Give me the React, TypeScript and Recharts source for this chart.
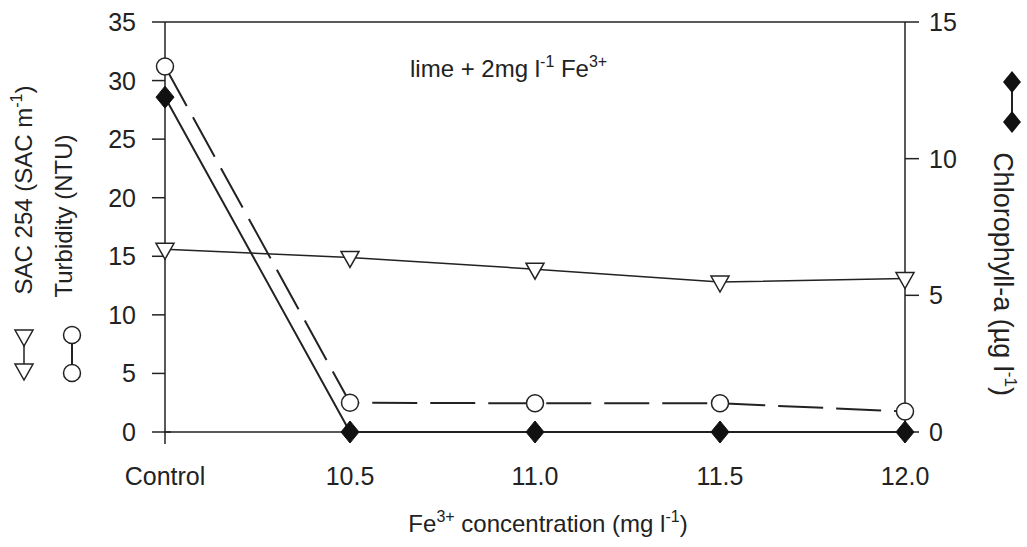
import { LineChart, Line, XAxis, YAxis, ReferenceLine } from 'recharts';

const categories = ['Control', '10.5', '11.0', '11.5', '12.0'];
const sac254 = [15.6, 14.9, 13.9, 12.8, 13.1];
const turbidity = [31.2, 2.5, 2.45, 2.45, 1.75];
const chlorophyll = [12.25, 0, 0, 0, 0];
const leftTicks = [0, 5, 10, 15, 20, 25, 30, 35];
const rightTicks = [0, 5, 10, 15];

const data = categories.map((c, i) => ({
  name: c,
  sac: sac254[i],
  turb: turbidity[i],
  chl: chlorophyll[i],
}));

const INK = '#222';
const FONT = '"Liberation Sans", Arial, sans-serif';

const TriangleDot = (props: any) => {
  const { cx, cy } = props;
  if (cx == null || cy == null) return null;
  return (
    <polygon
      points={`${cx - 9},${cy - 6} ${cx + 9},${cy - 6} ${cx},${cy + 10}`}
      fill="#fff"
      stroke={INK}
      strokeWidth={1.5}
    />
  );
};

const DiamondDot = (props: any) => {
  const { cx, cy } = props;
  if (cx == null || cy == null) return null;
  return (
    <polygon
      points={`${cx},${cy - 11} ${cx + 9},${cy} ${cx},${cy + 11} ${cx - 9},${cy}`}
      fill="#111"
      stroke="#111"
      strokeWidth={1}
    />
  );
};

const CircleDot = (props: any) => {
  const { cx, cy } = props;
  if (cx == null || cy == null) return null;
  return <circle cx={cx} cy={cy} r={8.5} fill="#fff" stroke={INK} strokeWidth={1.5} />;
};

const LeftTick = (props: any) => {
  const { x, y, payload } = props;
  return (
    <g>
      {payload.value === 0 && (
        <>
          <line x1={x + 14} x2={x + 21} y1={y} y2={y} stroke={INK} strokeWidth={1.5} />
          <line x1={x + 15} x2={x + 15} y1={y} y2={y + 12} stroke={INK} strokeWidth={1.5} />
        </>
      )}
      <text x={x - 14} y={y} dy={9} textAnchor="end" fontSize={25} fill={INK} fontFamily={FONT}>
        {payload.value}
      </text>
    </g>
  );
};

export default function App() {
  return (
    <div style={{ position: 'absolute', left: 0, top: 0, width: 1027, height: 547, background: '#fff' }}>
      <LineChart
        width={1027}
        height={547}
        data={data}
        margin={{ top: 22, right: 62, left: 105, bottom: 55 }}
      >
        <XAxis
          dataKey="name"
          axisLine={{ stroke: INK, strokeWidth: 1.5 }}
          tickLine={false}
          tick={{ fontSize: 25, fill: INK, fontFamily: FONT }}
          tickMargin={29}
          height={60}
          interval={0}
        />
        <YAxis
          yAxisId="left"
          domain={[0, 35]}
          ticks={leftTicks}
          width={60}
          axisLine={{ stroke: INK, strokeWidth: 1.5 }}
          tickLine={{ stroke: INK, strokeWidth: 1.5 }}
          tickSize={13}
          tick={<LeftTick />}
        />
        <YAxis
          yAxisId="right"
          orientation="right"
          domain={[0, 15]}
          ticks={rightTicks}
          width={60}
          axisLine={{ stroke: INK, strokeWidth: 1.5 }}
          tickLine={{ stroke: INK, strokeWidth: 1.5 }}
          tickSize={14}
          tickMargin={10}
          tick={{ fontSize: 25, fill: INK, fontFamily: FONT }}
        />
        <ReferenceLine yAxisId="left" y={35} stroke={INK} strokeWidth={1.5} />
        <Line
          yAxisId="left"
          dataKey="sac"
          stroke={INK}
          strokeWidth={1.5}
          dot={<TriangleDot />}
          isAnimationActive={false}
        />
        <Line
          yAxisId="left"
          dataKey="turb"
          stroke={INK}
          strokeWidth={2}
          strokeDasharray="45 13"
          dot={<CircleDot />}
          isAnimationActive={false}
        />
        <Line
          yAxisId="right"
          dataKey="chl"
          stroke={INK}
          strokeWidth={2}
          dot={<DiamondDot />}
          isAnimationActive={false}
        />
      </LineChart>
      <svg
        width={1027}
        height={547}
        style={{ position: 'absolute', left: 0, top: 0, pointerEvents: 'none' }}
        fontFamily={FONT}
        fill={INK}
      >
        <text x={410} y={77} fontSize={24}>
          lime + 2mg l<tspan dy={-10} fontSize={16}>-1</tspan>
          <tspan dy={10}> Fe</tspan>
          <tspan dy={-10} fontSize={16}>3+</tspan>
        </text>
        <text x={548} y={532} fontSize={24} textAnchor="middle">
          Fe<tspan dy={-10} fontSize={16}>3+</tspan>
          <tspan dy={10}> concentration (mg l</tspan>
          <tspan dy={-10} fontSize={16}>-1</tspan>
          <tspan dy={10}>)</tspan>
        </text>
        <text transform="translate(32,190) rotate(-90)" fontSize={24} textAnchor="middle">
          SAC 254 (SAC m<tspan dy={-10} fontSize={16}>-1</tspan>
          <tspan dy={10}>)</tspan>
        </text>
        <text transform="translate(72,216) rotate(-90)" fontSize={24} textAnchor="middle">
          Turbidity (NTU)
        </text>
        <text transform="translate(994,274) rotate(90)" fontSize={27} textAnchor="middle">
          Chlorophyll-a (µg l<tspan dy={-11} fontSize={17}>-1</tspan>
          <tspan dy={11}>)</tspan>
        </text>
        {/* legend symbols */}
        <line x1={24} x2={24} y1={335} y2={375} stroke={INK} strokeWidth={1.5} />
        <polygon points="15,330 33,330 24,346" fill="#fff" stroke={INK} strokeWidth={1.5} />
        <polygon points="15,364 33,364 24,380" fill="#fff" stroke={INK} strokeWidth={1.5} />
        <line x1={72} x2={72} y1={335} y2={373} stroke={INK} strokeWidth={2} />
        <circle cx={72} cy={335} r={8.5} fill="#fff" stroke={INK} strokeWidth={1.5} />
        <circle cx={72} cy={373} r={8.5} fill="#fff" stroke={INK} strokeWidth={1.5} />
        <line x1={1012} x2={1012} y1={82} y2={122} stroke={INK} strokeWidth={2} />
        <polygon points="1012,71 1021,82 1012,93 1003,82" fill="#111" />
        <polygon points="1012,111 1021,122 1012,133 1003,122" fill="#111" />
      </svg>
    </div>
  );
}
